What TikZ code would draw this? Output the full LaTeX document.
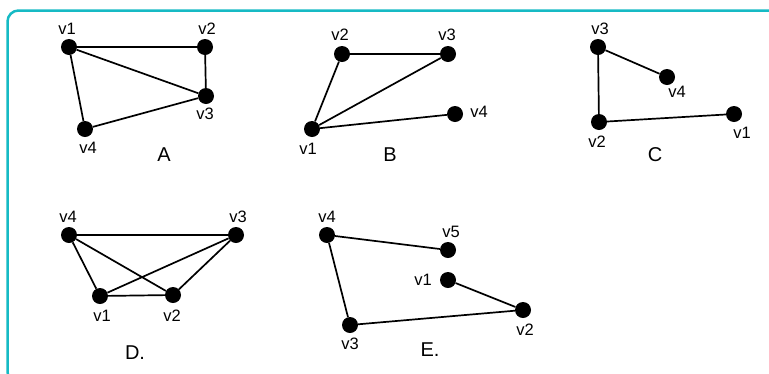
\documentclass[tikz,border=0pt]{standalone}
\usepackage{fontspec}
\setmainfont{Liberation Sans}
\definecolor{frameteal}{RGB}{22,186,196}
\begin{document}
\begin{tikzpicture}[x=1pt,y=-1pt,
  vtx/.style={circle,fill=black,inner sep=0pt,minimum size=16pt},
  lab/.style={font=\fontsize{16.5}{18}\selectfont,inner sep=0pt},
  gcap/.style={font=\fontsize{20}{22}\selectfont,inner sep=0pt},
  edge/.style={line width=1.7pt}]
\useasboundingbox (0,0) rectangle (769,373);
\clip (0,0) rectangle (769,373);
\draw[frameteal,line width=2.5pt,rounded corners=11pt] (7.5,10.5) rectangle (800,383);
% A
\node[vtx] (a1) at (69,47) {};
\node[vtx] (a2) at (205,47) {};
\node[vtx] (a3) at (206,96) {};
\node[vtx] (a4) at (85,129) {};
\draw[edge] (a1)--(a2) (a2)--(a3) (a1)--(a3) (a1)--(a4) (a4)--(a3);
\node[lab] (la1) at (67,29) {v1};
\node[lab] (la2) at (207,29) {v2};
\node[lab] (la3) at (205,114) {v3};
\node[lab] (la4) at (88,148) {v4};
\node[gcap] (ca) at (164,155) {A};
% B
\node[vtx] (b1) at (312,129) {};
\node[vtx] (b2) at (342,54) {};
\node[vtx] (b3) at (448,54) {};
\node[vtx] (b4) at (455,114) {};
\draw[edge] (b2)--(b3) (b2)--(b1) (b1)--(b3) (b1)--(b4);
\node[lab] (lb1) at (308,149) {v1};
\node[lab] (lb2) at (340,35) {v2};
\node[lab] (lb3) at (447,35) {v3};
\node[lab] (lb4) at (479,112) {v4};
\node[gcap] (cb) at (390,155) {B};
% C
\node[vtx] (c1) at (734,114) {};
\node[vtx] (c2) at (599,122) {};
\node[vtx] (c3) at (598,47) {};
\node[vtx] (c4) at (667,77) {};
\draw[edge] (c3)--(c2) (c3)--(c4) (c2)--(c1);
\node[lab] (lc1) at (742,133) {v1};
\node[lab] (lc2) at (597,142) {v2};
\node[lab] (lc3) at (600,29) {v3};
\node[lab] (lc4) at (677,92) {v4};
\node[gcap] (cc) at (655,155) {C};
% D
\node[vtx] (d1) at (100,296) {};
\node[vtx] (d2) at (173,295) {};
\node[vtx] (d3) at (236,235) {};
\node[vtx] (d4) at (69,235) {};
\draw[edge] (d4)--(d3) (d4)--(d1) (d4)--(d2) (d3)--(d1) (d3)--(d2) (d1)--(d2);
\node[lab] (ld1) at (102,316) {v1};
\node[lab] (ld2) at (172,316) {v2};
\node[lab] (ld3) at (238,217) {v3};
\node[lab] (ld4) at (68,217) {v4};
\node[gcap] (cd) at (135,353) {D.};
% E
\node[vtx] (e1) at (448,280) {};
\node[vtx] (e2) at (523,310) {};
\node[vtx] (e3) at (350,325) {};
\node[vtx] (e4) at (327,235) {};
\node[vtx] (e5) at (448,250) {};
\draw[edge] (e4)--(e5) (e4)--(e3) (e3)--(e2) (e2)--(e1);
\node[lab] (le1) at (423,280) {v1};
\node[lab] (le2) at (525,330) {v2};
\node[lab] (le3) at (350,344) {v3};
\node[lab] (le4) at (327,217) {v4};
\node[lab] (le5) at (451,232) {v5};
\node[gcap] (ce) at (430,350) {E.};
\end{tikzpicture}
\end{document}
